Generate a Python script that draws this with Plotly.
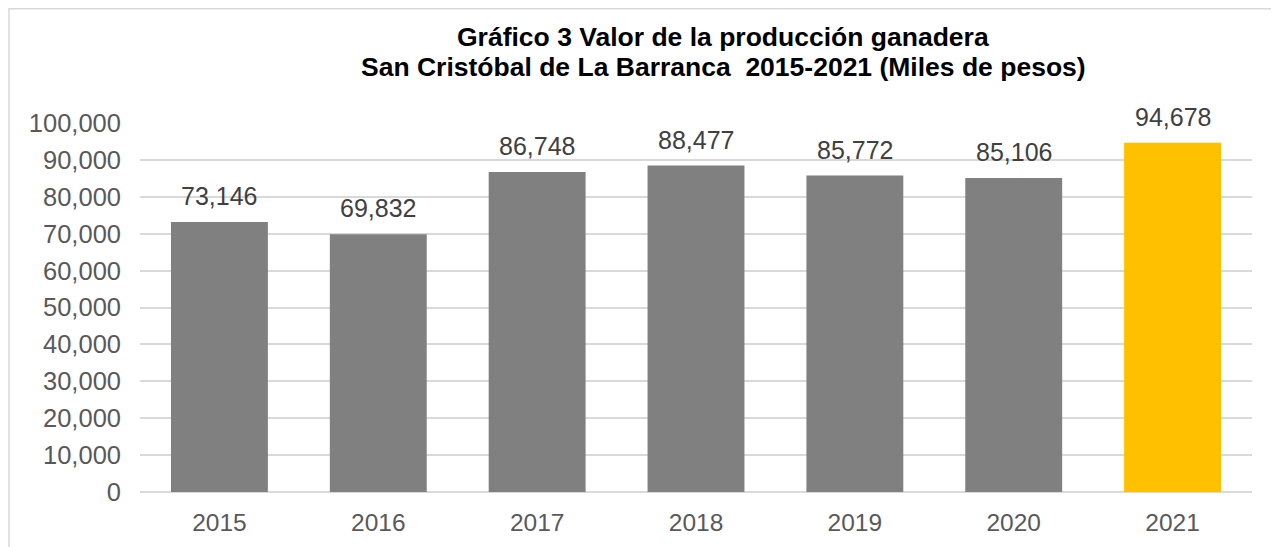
import plotly.graph_objects as go

years = ["2015", "2016", "2017", "2018", "2019", "2020", "2021"]
values = [73146, 69832, 86748, 88477, 85772, 85106, 94678]
bar_colors = ["#808080"] * 6 + ["#FFC000"]
labels = [f"{v:,}" for v in values]

# page body has an 8px default margin, so the figure is sized to fit
W, H = 1271, 539
L, R, T, B = 132, 27, 115, 55
pw, ph = W - L - R, H - T - B

def px(x):
    return (x - L) / pw

def py(y):
    return (H - B - y) / ph

FONT = "Liberation Sans, Arial"

fig = go.Figure(go.Bar(
    x=years, y=values, marker_color=bar_colors, marker_line_width=0,
    hoverinfo="x+y",
))

# value labels: placed at each category (by index) above its bar
value_annotations = [
    dict(x=i, y=v, xref="x", yref="y", text=t, showarrow=False,
         yanchor="middle", yshift=26,
         font=dict(size=25, color="#404040", family=FONT))
    for i, (v, t) in enumerate(zip(values, labels))
]

title_annotations = [
    dict(text="<b>Gráfico 3 Valor de la producción ganadera</b>",
         x=px(715), y=py(29), xref="paper", yref="paper",
         showarrow=False, font=dict(size=26.5, color="black", family=FONT),
         xanchor="center", yanchor="middle"),
    dict(text="<b>San Cristóbal de La Barranca  2015-2021 (Miles de pesos)</b>",
         x=px(715), y=py(59), xref="paper", yref="paper",
         showarrow=False, font=dict(size=26.5, color="black", family=FONT),
         xanchor="center", yanchor="middle"),
]

fig.update_layout(
    width=W, height=H,
    margin=dict(l=L, r=R, t=T, b=B),
    paper_bgcolor="white", plot_bgcolor="white",
    bargap=0.39,
    showlegend=False,
    font=dict(family=FONT, color="#595959"),
    xaxis=dict(type="category", categoryorder="array", categoryarray=years,
               range=[-0.5, len(years) - 0.5], autorange=False,
               tickfont=dict(size=24.5, color="#595959"),
               showgrid=False, showline=False, ticks="", ticklabelstandoff=13),
    yaxis=dict(range=[0, 100000], autorange=False, dtick=10000, tickformat=",d",
               tickfont=dict(size=25.5, color="#595959"),
               gridcolor="#D9D9D9", gridwidth=1.5, zeroline=True,
               zerolinecolor="#D9D9D9", zerolinewidth=1.5, ticks="",
               ticklabelstandoff=18),
    annotations=value_annotations + title_annotations,
    shapes=[
        dict(type="line", xref="paper", yref="paper",
             x0=px(1), x1=px(1), y0=py(0), y1=py(H + 5),
             line=dict(color="#D9D9D9", width=1.5)),
        dict(type="line", xref="paper", yref="paper",
             x0=px(1), x1=px(W + 5), y0=py(0.75), y1=py(0.75),
             line=dict(color="#D9D9D9", width=1.5)),
    ],
)

fig.write_html("out.html")
